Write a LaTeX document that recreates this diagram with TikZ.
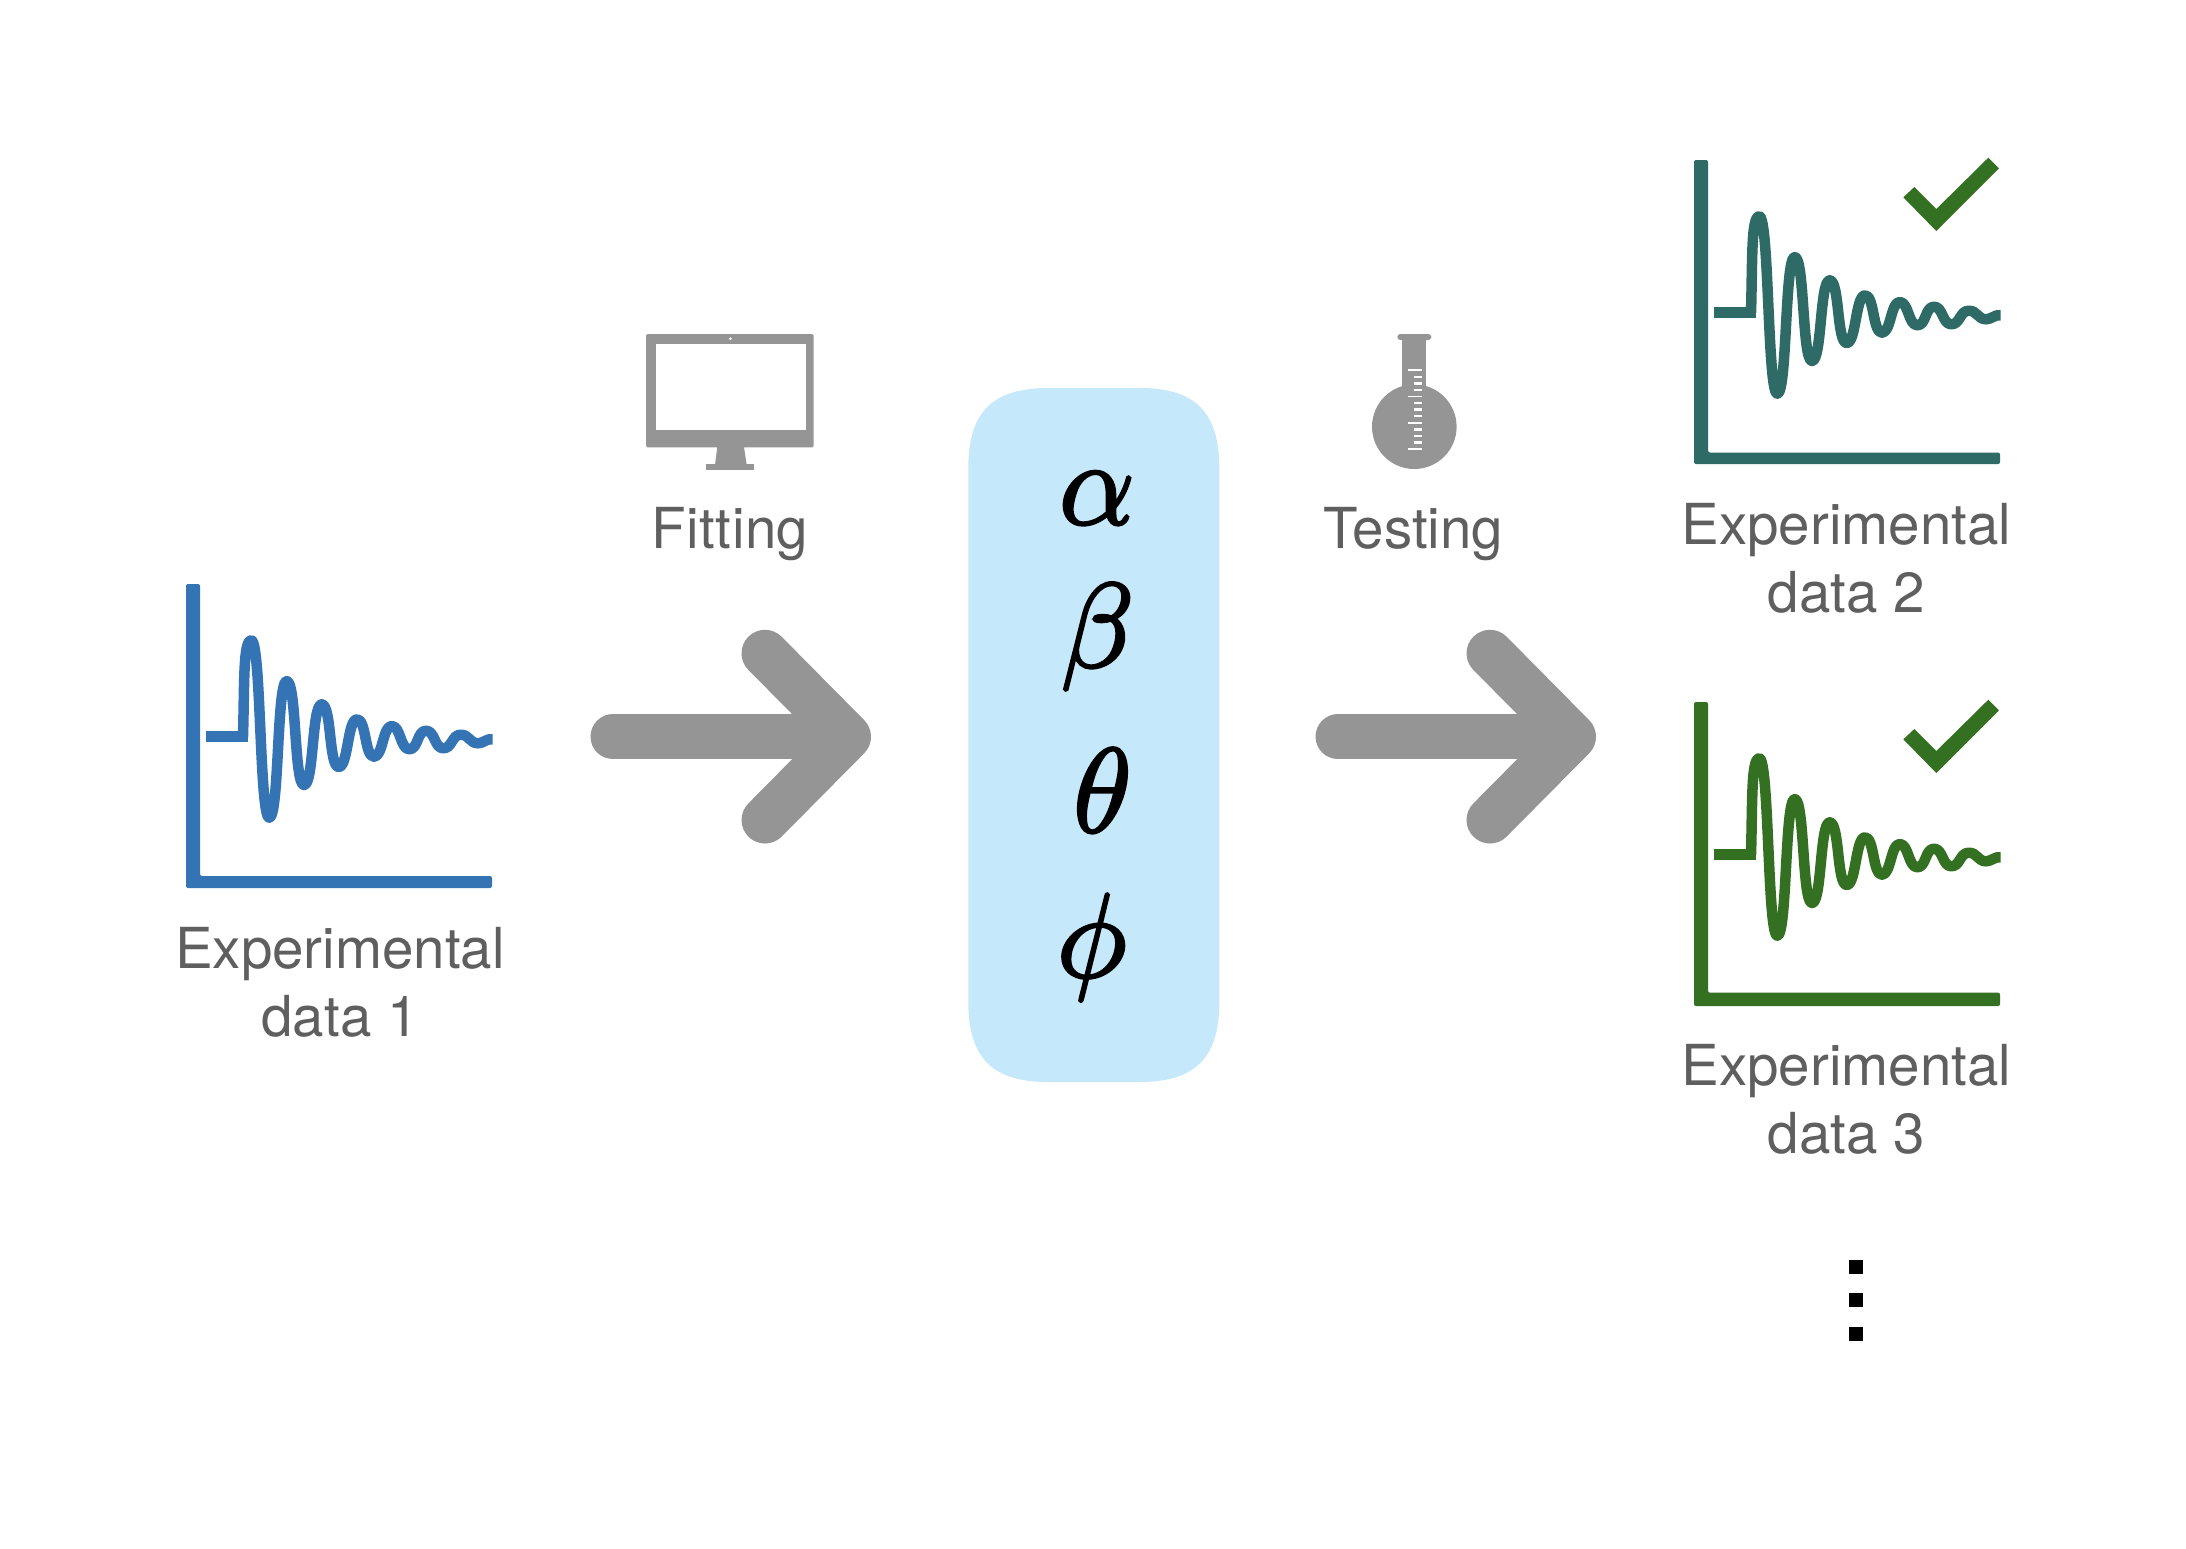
\documentclass[tikz,border=0pt]{standalone}
\usepackage{graphicx}
\usepackage{fontspec}
\setmainfont{TeX Gyre Heros}
\definecolor{wblue}{HTML}{3473B4}
\definecolor{wteal}{HTML}{2F6B66}
\definecolor{wgreen}{HTML}{347021}
\definecolor{icongray}{HTML}{959595}
\definecolor{labelgray}{HTML}{5F5F5F}
\definecolor{boxblue}{HTML}{C6E8FB}
\tikzset{
  lab/.style={text=labelgray,font=\fontsize{56.5}{68}\selectfont,align=center,inner sep=0pt,anchor=base},
  greek/.style={text=black,font=\fontsize{24.88}{30}\selectfont,inner sep=0pt,anchor=base},
  bigshaft/.style={draw=icongray,line width=45pt,line cap=round,line join=round},
  bighead/.style={draw=icongray,line width=47pt,line cap=round,line join=round},
  wavestroke/.style={line width=10.5pt,line join=round},
  tick/.style={fill=white,draw=none},
  vdot/.style={fill=black,draw=none}
}
\newcommand{\bigsym}[1]{\special{pdf:code q 2 Tr 0.6 w}\scalebox{4.82}{\(#1\)}\special{pdf:code Q}}
\newcommand{\dampedplot}[4]{%
  \begin{scope}[shift={(#1,#2)}]
    \fill[#3,rounded corners=2pt] (0,0)--(14,0)--(14,{304-#4})--(306,{304-#4})--(306,304)--(0,304)--cycle;
    \fill[#3] (20,147.45) rectangle (62.25,157.95);
    \draw[#3,wavestroke] (57,152.7)
      .. controls (58.5,100) and (57,56.3) .. (65.3,56.3)
      .. controls +(10,0) and +(-10,0) .. (83.3,233.7)
      .. controls +(10,0) and +(-10,0) .. (100.7,97)
      .. controls +(10,0) and +(-10,0) .. (118,201)
      .. controls +(10,0) and +(-10,0) .. (135.7,120.3)
      .. controls +(10,0) and +(-10,0) .. (152.7,183)
      .. controls +(9.5,0) and +(-9.5,0) .. (171,135.3)
      .. controls +(9.5,0) and +(-9.5,0) .. (188,172.7)
      .. controls +(9,0) and +(-9,0) .. (205.7,142)
      .. controls +(9,0) and +(-9,0) .. (223.3,165.3)
      .. controls +(9,0) and +(-9,0) .. (240,146.7)
      .. controls +(9,0) and +(-9,0) .. (257.3,164.3)
      .. controls +(9,0) and +(-9,0) .. (274.7,150.7)
      .. controls +(9,0) and +(-9,0) .. (292.3,159.3)
      .. controls +(5,0) and +(-5,-1.5) .. (306.7,155.3);
  \end{scope}}
\newcommand{\okmark}[2]{%
  \fill[wgreen,shift={(#1,#2)}] (209.3,37.3)--(220.3,27)--(242.3,49)--(294.3,-2.3)--(305,8.3)--(242.3,71)--cycle;}
\begin{document}
\begin{tikzpicture}[x=1pt,y=-1pt]
\useasboundingbox (0,0) rectangle (2186,1548);
\fill[white] (0,0) rectangle (2186,1548);

% plots
\dampedplot{186}{584}{wblue}{12}
\dampedplot{1694}{160}{wteal}{11.5}
\dampedplot{1694}{702}{wgreen}{13.3}
\okmark{1694}{160}
\okmark{1694}{702}

% labels of the plots
\node[lab] (exp1) at (340,1036) {Experimental\\data 1\hspace{8pt}};
\node[lab] (exp2) at (1846.3,612.5) {Experimental\\data 2\hspace{3pt}};
\node[lab] (exp3) at (1846.3,1153.5) {Experimental\\data 3\hspace{3pt}};
\node[lab] (fit) at (730,548) {\addfontfeature{LetterSpace=0.8}Fitting};
\node[lab] (test) at (1413.4,548) {Testing};

% monitor
\fill[icongray,rounded corners=1.5pt] (646,334) rectangle (813.7,447.3);
\fill[white] (656,344) rectangle (806,430);
\fill[white] (730.3,338.8) circle (1.5);
\fill[icongray] (717.3,447) -- (744,447) -- (746.7,465) -- (715,465) -- cycle;
\fill[icongray] (706,464) rectangle (754,470);

% flask
\fill[icongray,rounded corners=3pt] (1397.3,334) rectangle (1431.3,340);
\fill[icongray] (1402,338) rectangle (1426,400);
\fill[icongray] (1414.3,426.7) circle (42.3);
\foreach \i in {0,...,12}{
  \pgfmathtruncatemacro{\m}{mod(\i,4)}
  \pgfmathsetmacro{\ty}{370.3+6.56*\i}
  \ifnum\m=0
    \fill[tick] (1408,\ty-0.9) rectangle (1422,\ty+0.9);
  \else
    \fill[tick] (1414,\ty-1.2) rectangle (1422,\ty+1.2);
  \fi
}

% parameter box
\fill[boxblue] (968.3,468)
  .. controls (968.3,412) and (992.3,388) .. (1048.3,388)
  -- (1139.3,388)
  .. controls (1195.3,388) and (1219.3,412) .. (1219.3,468)
  -- (1219.3,1002)
  .. controls (1219.3,1058) and (1195.3,1082) .. (1139.3,1082)
  -- (1048.3,1082)
  .. controls (992.3,1082) and (968.3,1058) .. (968.3,1002)
  -- cycle;
\node[greek] (alpha) at (1097,524) {\bigsym{\alpha}};
\node[greek] (beta)  at (1097.5,667) {\bigsym{\beta}};
\node[greek] (theta) at (1102.5,832) {\bigsym{\theta}};
\node[greek] (phi)   at (1091.7,977) {\bigsym{\phi}};

% arrows
\coordinate (a1from) at (613,736.7);
\coordinate (a1tip) at (847.5,736.7);
\coordinate (a1up) at (765,653.3);
\coordinate (a1low) at (765,820);
\draw[bigshaft] (a1from) -- (a1tip);
\draw[bighead] (a1up) -- (a1tip) -- (a1low);
\coordinate (a2from) at (1338,736.7);
\coordinate (a2tip) at (1572.5,736.7);
\coordinate (a2up) at (1490,653.3);
\coordinate (a2low) at (1490,820);
\draw[bigshaft] (a2from) -- (a2tip);
\draw[bighead] (a2up) -- (a2tip) -- (a2low);

% vertical dots
\fill[vdot] (1848.7,1260.3) rectangle (1862.7,1274.3);
\fill[vdot] (1848.7,1293.3) rectangle (1862.7,1307.3);
\fill[vdot] (1848.7,1327.3) rectangle (1862.7,1341.3);
\end{tikzpicture}
\end{document}
